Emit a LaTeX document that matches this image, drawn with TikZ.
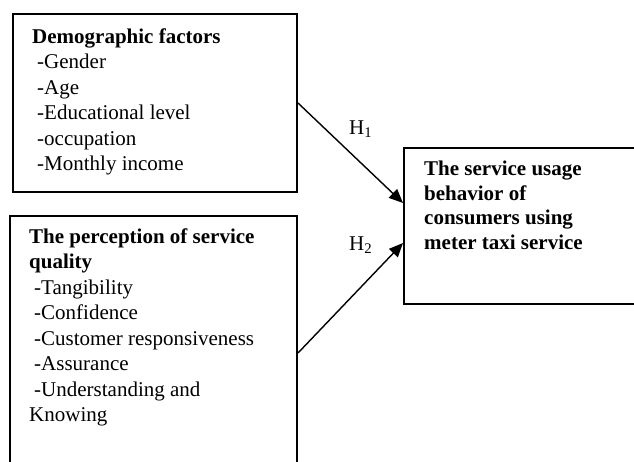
\documentclass[tikz,border=0pt]{standalone}
\usepackage{fontspec}
\setmainfont{Liberation Serif}
\usetikzlibrary{arrows.meta,calc}
\begin{document}
\begin{tikzpicture}[x=1pt,y=-1pt,
  box/.style={draw=black,line width=2pt,fill=none,inner sep=0pt,anchor=north west},
  txt/.style={anchor=base west,inner sep=0pt,font=\fontsize{21}{24}\selectfont},
  hd/.style={txt,font=\fontsize{21}{24}\selectfont\bfseries},
  link/.style={line width=1.4pt,-{Triangle[length=14pt,width=12pt]}}]
\useasboundingbox (0,0) rectangle (634,461);
% boxes
\node[box,minimum width=284pt,minimum height=178pt] (b1) at (12,13) {};
\node[box,minimum width=287pt,minimum height=274pt] (b2) at (9,215) {};
\node[box,minimum width=260pt,minimum height=156pt] (b3) at (403,147) {};
% box 1 text
\node[hd] (d0) at (32,43) {Demographic factors};
\node[txt] (d1) at (37,68.5) {-Gender};
\node[txt] (d2) at (37,94) {-Age};
\node[txt] (d3) at (37,119.5) {-Educational level};
\node[txt] (d4) at (37,145) {-occupation};
\node[txt] (d5) at (37,170.5) {-Monthly income};
% box 2 text
\node[hd] (p0) at (29,243) {The perception of service};
\node[hd] (p1) at (29,268.5) {quality};
\node[txt] (p2) at (34,294) {-Tangibility};
\node[txt] (p3) at (34,319.5) {-Confidence};
\node[txt] (p4) at (34,345) {-Customer responsiveness};
\node[txt] (p5) at (34,370.5) {-Assurance};
\node[txt] (p6) at (34,396) {-Understanding and};
\node[txt] (p7) at (29,421.5) {Knowing};
% box 3 text
\node[hd] (s0) at (424,175) {The service usage};
\node[hd] (s1) at (424,200) {behavior of};
\node[hd] (s2) at (424,224.5) {consumers using};
\node[hd] (s3) at (424,249) {meter taxi service};
% connectors
\coordinate (e1) at ($(b3.west)+(0,-23)$);
\coordinate (e2) at ($(b3.west)+(0,17)$);
\draw[link] (b1.east) -- (e1);
\draw[link] (b2.east) -- (e2);
\node[txt] (h1) at (349,134) {H\textsubscript{1}};
\node[txt] (h2) at (349,250) {H\textsubscript{2}};
\end{tikzpicture}
\end{document}
